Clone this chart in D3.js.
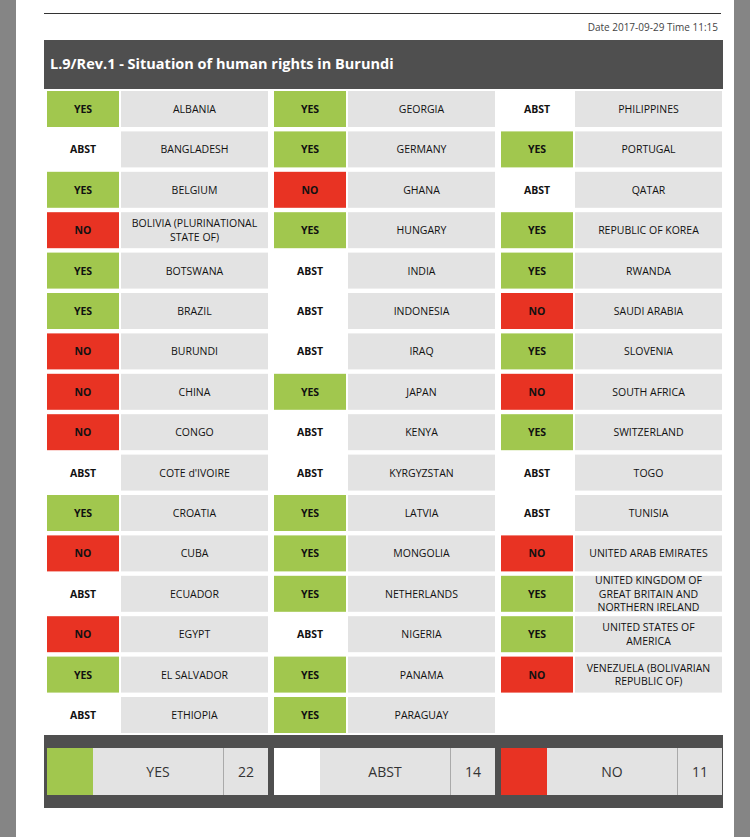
<!DOCTYPE html>
<html><head><meta charset="utf-8">
<script src="https://cdn.jsdelivr.net/npm/d3@7/dist/d3.min.js"></script>
<style>body{margin:0;background:#fff}</style></head>
<body><svg id="c" width="750" height="837"></svg>
<script>
const col1 = [["YES","ALBANIA"],["ABST","BANGLADESH"],["YES","BELGIUM"],["NO","BOLIVIA (PLURINATIONAL|STATE OF)"],["YES","BOTSWANA"],["YES","BRAZIL"],["NO","BURUNDI"],["NO","CHINA"],["NO","CONGO"],["ABST","COTE d'IVOIRE"],["YES","CROATIA"],["NO","CUBA"],["ABST","ECUADOR"],["NO","EGYPT"],["YES","EL SALVADOR"],["ABST","ETHIOPIA"]];
const col2 = [["YES","GEORGIA"],["YES","GERMANY"],["NO","GHANA"],["YES","HUNGARY"],["ABST","INDIA"],["ABST","INDONESIA"],["ABST","IRAQ"],["YES","JAPAN"],["ABST","KENYA"],["ABST","KYRGYZSTAN"],["YES","LATVIA"],["YES","MONGOLIA"],["YES","NETHERLANDS"],["ABST","NIGERIA"],["YES","PANAMA"],["YES","PARAGUAY"]];
const col3 = [["ABST","PHILIPPINES"],["YES","PORTUGAL"],["ABST","QATAR"],["YES","REPUBLIC OF KOREA"],["YES","RWANDA"],["NO","SAUDI ARABIA"],["YES","SLOVENIA"],["NO","SOUTH AFRICA"],["YES","SWITZERLAND"],["ABST","TOGO"],["ABST","TUNISIA"],["NO","UNITED ARAB EMIRATES"],["YES","UNITED KINGDOM OF|GREAT BRITAIN AND|NORTHERN IRELAND"],["YES","UNITED STATES OF|AMERICA"],["NO","VENEZUELA (BOLIVARIAN|REPUBLIC OF)"]];
const totals = [["YES",22],["ABST",14],["NO",11]];
const title = "L.9/Rev.1 - Situation of human rights in Burundi";
const dateText = "Date 2017-09-29  Time 11:15";

const color = {YES:"#a1c74e",ABST:"#ffffff",NO:"#e83323"};
const svg = d3.select("#c");
const F = "'Open Sans', sans-serif";
svg.append("rect").attr("x",0).attr("y",0).attr("width",16).attr("height",837).attr("fill","#858585");
svg.append("rect").attr("x",734).attr("y",0).attr("width",16).attr("height",837).attr("fill","#858585");
svg.append("line").attr("x1",44).attr("x2",721).attr("y1",13.5).attr("y2",13.5).attr("stroke","#333");
svg.append("text").attr("x",718).attr("y",31).attr("text-anchor","end").attr("font-family",F).attr("font-size",10).attr("fill","#444").text(dateText);
svg.append("rect").attr("x",44).attr("y",40).attr("width",679).attr("height",49).attr("fill","#4f4f4f");
svg.append("text").attr("x",50).attr("y",69).attr("font-family",F).attr("font-weight","bold").attr("font-size",14.5).attr("fill","#fff").text(title);

const cols = [col1,col2,col3];
const colX = d3.scaleLinear().domain([0,1]).range([47,274]);
const rowY = d3.scaleLinear().domain([0,1]).range([91,131.4]);
cols.forEach((col,ci)=>{
  const x0 = colX(ci);
  const g = svg.append("g");
  col.forEach((d,ri)=>{
    const y = rowY(ri);
    g.append("rect").attr("x",x0).attr("y",y).attr("width",72).attr("height",36).attr("fill",color[d[0]]);
    g.append("text").attr("x",x0+36).attr("y",y+22).attr("text-anchor","middle").attr("font-family",F).attr("font-weight","bold").attr("font-size",10.5).attr("fill","#111").text(d[0]);
    g.append("rect").attr("x",x0+74).attr("y",y).attr("width",147).attr("height",36).attr("fill","#e3e3e3");
    const lines = d[1].split("|");
    const lh = 13.5;
    const t = g.append("text").attr("text-anchor","middle").attr("font-family",F).attr("font-size",10.5).attr("fill","#111");
    lines.forEach((l,li)=>{
      t.append("tspan").attr("x",x0+74+73.5).attr("y",y+18+4+(li-(lines.length-1)/2)*lh).text(l);
    });
  });
});

svg.append("rect").attr("x",44).attr("y",735).attr("width",679).attr("height",73).attr("fill","#4f4f4f");
totals.forEach((d,i)=>{
  const x0 = colX(i);
  const y = 748, h = 47;
  svg.append("rect").attr("x",x0).attr("y",y).attr("width",46).attr("height",h).attr("fill",color[d[0]]);
  svg.append("rect").attr("x",x0+46).attr("y",y).attr("width",175).attr("height",h).attr("fill","#e3e3e3");
  svg.append("line").attr("x1",x0+176.5).attr("x2",x0+176.5).attr("y1",y).attr("y2",y+h).attr("stroke","#aaa");
  svg.append("text").attr("x",x0+111).attr("y",y+29).attr("text-anchor","middle").attr("font-family",F).attr("font-size",14).attr("fill","#333").text(d[0]);
  svg.append("text").attr("x",x0+199).attr("y",y+29).attr("text-anchor","middle").attr("font-family",F).attr("font-size",14).attr("fill","#333").text(d[1]);
});
</script></body></html>
